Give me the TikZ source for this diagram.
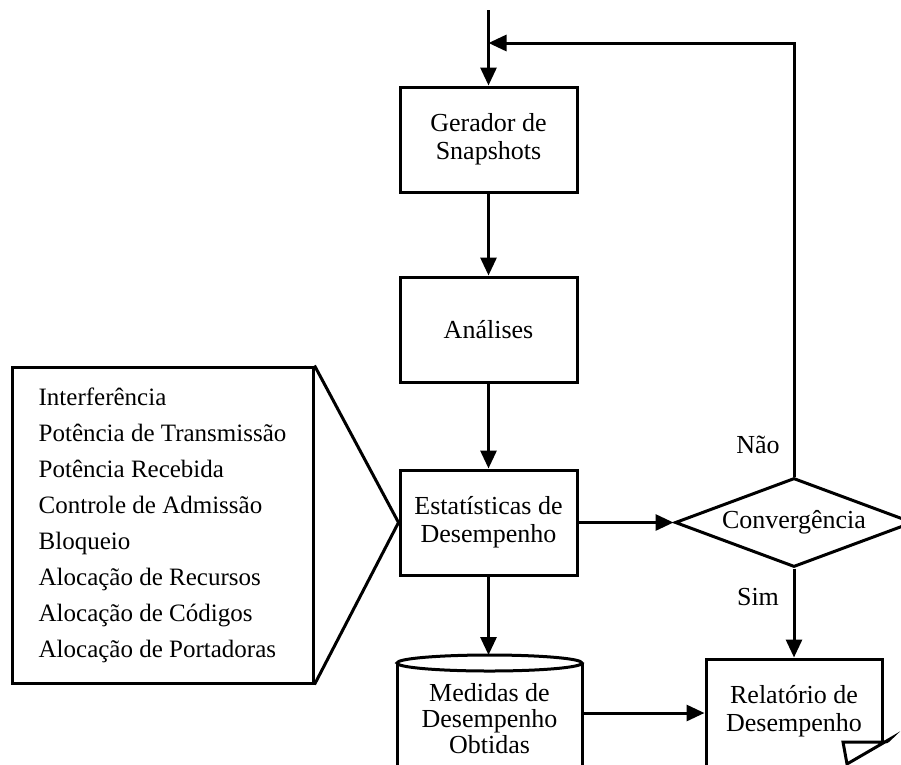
\documentclass[tikz,border=0pt]{standalone}
\usepackage{fontspec}
\setmainfont{Liberation Serif}
\usetikzlibrary{arrows.meta, shapes.geometric}
\tikzset{
  block/.style={draw, minimum width=177pt, minimum height=105pt, align=center, inner sep=0pt},
  flow/.style={-{Triangle[length=18pt,width=16pt]}},
}

\begin{document}
\begin{tikzpicture}[x=1pt, y=-1pt, line width=3pt, font=\fontsize{26}{28}\selectfont]
              % Frame of the picture
              \useasboundingbox (0,0) rectangle (901,764);
              \clip (0,0) rectangle (901,764);

              % Main column of blocks
              \node[block] (gen) at (488.5,139.5) {Gerador de\\Snapshots};
              \node[block] (ana) at (488.5,329.5) {Análises};
              \node[block] (est) at (488.5,522.5) {Estatísticas de\\Desempenho};

              % Decision
              \node[diamond, draw, aspect=2.67, minimum width=238pt, minimum height=89pt, inner sep=0pt] (conv) at (794,522.5) {Convergência};
              \node (nao) at (758,445) {Não};
              \node (sim) at (758,597) {Sim};

              % List of statistics
              \node[draw, align=left, minimum width=301pt, minimum height=316pt, font=\fontsize{25}{36}\selectfont] (list) at (162.5,525) {Interferência\\Potência de Transmissão\\Potência Recebida\\Controle de Admissão\\Bloqueio\\Alocação de Recursos\\Alocação de Códigos\\Alocação de Portadoras};
              \draw (list.north east) -- (est.west) -- (list.south east);

              % Stored measures (cylinder)
              \draw (397,663) -- (397,770);
              \draw (582,663) -- (582,770);
              \draw (489.5,663) ellipse [x radius=92.5, y radius=8];
              \node[align=center, font=\fontsize{26}{26}\selectfont] (meas) at (489.5,719) {Medidas de\\Desempenho\\Obtidas};
              \coordinate (mtop) at (489.5,655);
              \coordinate (mright) at (582,713);

              % Report (document)
              \node[minimum width=176pt, minimum height=105pt, align=center, inner sep=0pt] (report) at (794,711.5) {Relatório de\\Desempenho};
              \draw (706,770) -- (706,659) -- (882,659) -- (882,742);
              \draw (843,742) -- (882,742) .. controls (887,742) .. (890,739) -- (847,764) -- cycle;

              % Connectors
              \coordinate (start) at (488.5,10);
              \coordinate (loop) at (488.5,43);
              \draw[flow] (start) -- (gen.north);
              \draw[flow] (gen) -- (ana);
              \draw[flow] (ana) -- (est);
              \draw[flow] (est) -- (conv);
              \draw[flow] (est.south) -- (est.south |- mtop);
              \draw[flow] (mright) -- (mright -| report.west);
              \draw[flow] (conv.south) -- (report.north);
              \draw[flow] (conv.north) -- (conv.north |- loop) -- (loop);
            \end{tikzpicture}
\end{document}
